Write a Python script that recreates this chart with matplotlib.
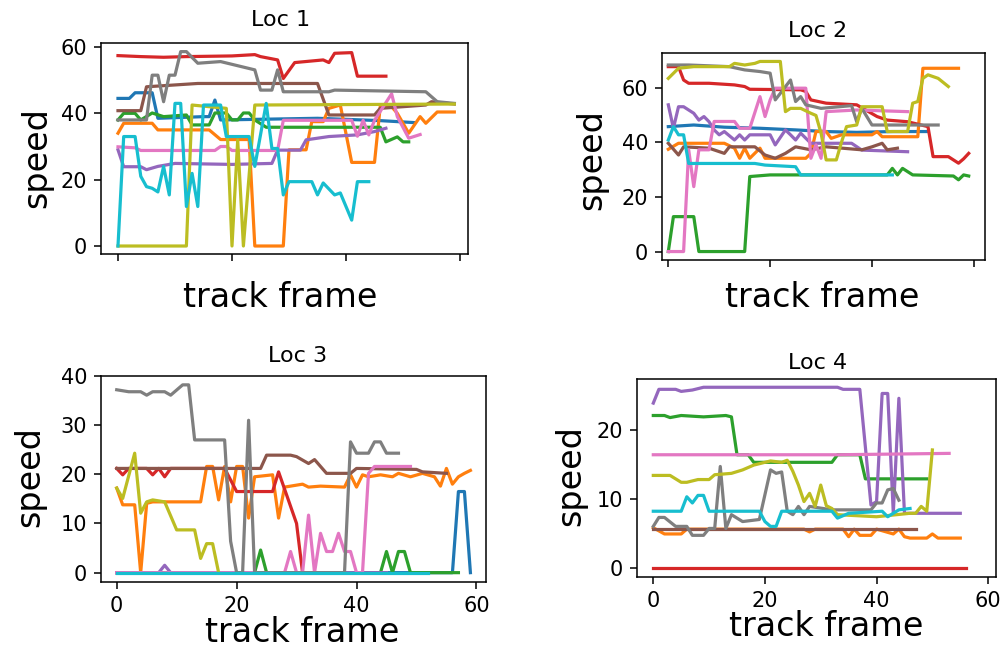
import matplotlib
matplotlib.use("Agg")
import matplotlib.pyplot as plt

W, H = 1001, 651

# ---------------- Loc 1 data (frame, speed) ----------------
l1_blue_f = [0, 2, 3, 6, 7, 15, 16, 17, 18, 35, 46, 52]
l1_blue_v = [44.5, 44.5, 46.2, 46.2, 38.5, 39, 39, 44, 38, 38.5, 37.8, 37.2]
l1_orange_f = [0, 1, 6, 7, 16, 18, 23, 24, 29, 30, 33, 34, 36, 37, 39, 41, 45, 46, 48, 49, 51, 53, 54, 56, 59]
l1_orange_v = [34, 37, 37, 35, 35, 32.1, 32.1, 0, 0, 29, 29, 37.5, 37.5, 41.5, 42.5, 25.2, 25.2, 42, 42, 40, 34, 39, 37, 40.4, 40.4]
l1_green_f = [0, 1, 3, 4, 6, 8, 12, 13, 16, 17, 19, 20, 21, 22, 23, 24, 26, 46, 47, 49, 50, 51]
l1_green_v = [38, 40, 40, 38, 40.1, 39, 39.5, 36.5, 36.5, 40.1, 40.1, 38, 38, 40.1, 40.1, 38, 35.8, 35.8, 31.4, 32.9, 31.4, 31.4]
l1_red_f = [0, 4, 8, 12, 20, 24, 25, 28, 29, 31, 36, 37, 38, 41, 42, 47]
l1_red_v = [57.4, 57.1, 56.9, 57.1, 57.3, 57.7, 57.1, 56.1, 50.5, 55.3, 56.1, 55.3, 58.1, 58.3, 51.2, 51.2]
l1_purple_f = [0, 1, 4, 5, 7, 10, 20, 27, 28, 32, 33, 37, 42, 45, 47]
l1_purple_v = [29, 23.9, 23.9, 23, 24, 24.9, 24.6, 24.9, 28.9, 28.9, 32, 33, 33.5, 34.5, 35.5]
l1_brown_f = [0, 4, 5, 14, 35, 37, 45, 46, 54, 55, 59]
l1_brown_v = [40.8, 40.8, 48, 49, 49, 39.5, 39.5, 41.5, 42.5, 43.5, 42.8]
l1_pink_f = [0, 3, 4, 17, 18, 19, 20, 28, 29, 41, 42, 43, 44, 45, 48, 49, 51, 53]
l1_pink_v = [29.9, 29.6, 28.8, 28.8, 30, 30, 28.8, 28.8, 37.9, 37.9, 33.1, 37.9, 33.5, 37.9, 45.9, 39, 32.5, 33.6]
l1_gray_f = [0, 5, 6, 7, 8, 9, 10, 11, 12, 14, 18, 24, 25, 27, 28, 29, 37, 38, 54, 56, 59]
l1_gray_v = [38, 38, 51.5, 51.5, 43.5, 51.5, 51.5, 58.6, 58.6, 55.1, 55.6, 53.1, 47, 47, 53.1, 46.5, 46.5, 47, 46.5, 43.5, 43]
l1_olive_f = [0, 12, 13, 19, 20, 21, 22, 24, 59]
l1_olive_v = [0, 0, 42.5, 41.5, 0, 32, 0, 42.5, 42.8]
l1_cyan_f = [0, 1, 3, 4, 5, 6, 7, 8, 9, 10, 11, 12, 13, 14, 15, 18, 19, 23, 24, 26, 27, 28, 29, 30, 34, 35, 36, 38, 39, 41, 42, 44]
l1_cyan_v = [0, 33, 33, 21, 17.9, 17.4, 16.3, 24, 15.4, 43, 43, 11.9, 21.9, 11.9, 42.5, 42.5, 33, 33, 24, 43, 29.4, 29.4, 15.4, 19.4, 19.4, 15.4, 19, 15.4, 16, 7.8, 19.4, 19.4]

# ---------------- Loc 2 data ----------------
l2_blue_f = [0, 5, 11, 18, 25, 31, 37, 44, 51]
l2_blue_v = [45.8, 46.4, 45.6, 45.2, 44.6, 44, 43.7, 44, 44]
l2_orange_f = [0, 2, 11, 13, 14, 15, 16, 18, 19, 27, 28, 29, 31, 32, 34, 40, 41, 42, 49, 50, 57]
l2_orange_v = [37.5, 39.7, 39.7, 37.9, 34.2, 37.9, 34.2, 37.9, 34.2, 34.2, 36, 44, 44, 41.5, 42.8, 42.8, 44, 42.1, 42.1, 67.2, 67.2]
l2_green_f = [0, 1, 5, 6, 15, 16, 20, 43, 44, 45, 46, 48, 56, 57, 58, 59]
l2_green_v = [0, 12.8, 12.8, 0, 0, 27.5, 28.1, 28.1, 30.5, 28.1, 30.5, 28.1, 27.7, 26.3, 28.1, 27.7]
l2_red_f = [0, 2, 3, 4, 8, 13, 15, 16, 26, 27, 28, 31, 37, 41, 43, 47, 51, 52, 55, 57, 58, 59]
l2_red_v = [67.8, 67.8, 62.9, 61.7, 61.7, 61.1, 60.5, 59.5, 59.3, 58.7, 55.6, 54.4, 53.8, 49.5, 48.2, 47.6, 45.8, 34.8, 34.8, 32.4, 34, 36]
l2_purple_f = [0, 1, 2, 3, 5, 6, 7, 8, 9, 10, 11, 13, 14, 15, 16, 20, 21, 23, 24, 25, 26, 28, 36, 38, 47]
l2_purple_v = [53.8, 45.2, 53.1, 53.1, 50.7, 48.2, 49.5, 47.6, 44.6, 42.8, 44, 40.9, 42.8, 40.9, 42.8, 42.8, 39.1, 44.6, 42.8, 40.9, 43.4, 39.7, 39.7, 37.2, 36.6]
l2_brown_f = [0, 2, 3, 8, 11, 12, 17, 19, 21, 23, 25, 28, 31, 38, 40, 42, 43, 45]
l2_brown_v = [39.7, 35.4, 38.4, 37.9, 36, 38.4, 38.4, 35.4, 34.2, 36, 38.4, 37.3, 38.4, 37.3, 38.4, 39.7, 37.3, 37.9]
l2_pink_f = [0, 3, 4, 5, 6, 8, 9, 13, 14, 16, 18, 19, 20, 21, 27, 28, 29, 30, 31, 37, 47]
l2_pink_v = [0, 0, 37.3, 23.8, 37.3, 37.3, 47.7, 47.7, 45.2, 45.2, 56.8, 49.5, 55.6, 59.9, 59.9, 34.2, 39.1, 34.2, 51.3, 51.9, 51.3]
l2_gray_f = [0, 4, 12, 15, 18, 20, 21, 22, 24, 25, 26, 27, 30, 36, 37, 38, 40, 53]
l2_gray_v = [68.4, 68.4, 67.8, 66.6, 66, 65.4, 55.6, 58, 62.9, 55, 56.8, 53.8, 52.5, 53.5, 47.6, 52.5, 46.4, 46.4]
l2_olive_f = [0, 2, 5, 12, 13, 15, 17, 18, 22, 23, 24, 26, 28, 29, 30, 31, 33, 34, 35, 37, 38, 42, 43, 47, 48, 49, 50, 51, 53, 55]
l2_olive_v = [63.5, 67.2, 67.8, 67.8, 69, 68.4, 69, 69.7, 69.7, 51.3, 52.5, 52.5, 50.7, 49.9, 43.4, 33.6, 33.6, 40, 45.8, 46.4, 53.1, 53.1, 44, 44, 54.4, 55, 63.5, 64.8, 63.5, 60.5]
l2_cyan_f = [0, 1, 2, 3, 4, 17, 19, 25, 26, 44]
l2_cyan_v = [40.9, 45.8, 42.8, 42.8, 32.3, 32.3, 31.7, 31.1, 28.1, 28.1]

# ---------------- Loc 3 data ----------------
l3_blue_f = [0, 56, 57, 58, 59]
l3_blue_v = [0, 0, 16.5, 16.5, 0]
l3_orange_f = [0, 1, 3, 4, 5, 6, 14, 15, 16, 17, 18, 19, 20, 21, 22, 23, 26, 27, 28, 31, 32, 34, 38, 39, 40, 41, 42, 44, 46, 47, 49, 51, 53, 54, 55, 56, 57, 58, 59]
l3_orange_v = [17.2, 13.8, 13.8, 0, 14.1, 14.4, 14.4, 21.6, 21.6, 14.8, 21.6, 14.4, 21.6, 21.6, 11.1, 19.5, 19.9, 11.1, 17.4, 18, 17.4, 17.6, 17.4, 19.9, 17.4, 19.9, 19.5, 19.9, 19.5, 20.2, 19.5, 20.2, 19.5, 17.6, 21.2, 18, 19.5, 20.2, 20.8]
l3_green_f = [0, 23, 24, 25, 44, 45, 46, 47, 48, 49, 57]
l3_green_v = [0, 0, 4.6, 0, 0, 4.3, 0, 4.3, 4.3, 0, 0]
l3_red_f = [0, 1, 2, 5, 6, 7, 8, 9, 18, 20, 26, 27, 30, 31]
l3_red_v = [21.2, 19.9, 21.2, 21.2, 19.9, 21.2, 19.5, 21.2, 21.2, 16.5, 16.5, 20.5, 10, 0]
l3_purple_f = [0, 7, 8, 9, 45]
l3_purple_v = [0, 0, 1.5, 0, 0]
l3_brown_f = [0, 24, 25, 29, 30, 32, 33, 34, 35, 39, 40, 50, 51, 55]
l3_brown_v = [21.2, 21.2, 23.9, 23.9, 23.6, 22.2, 23, 21.6, 20.2, 20.2, 21.2, 21, 20.5, 20.2]
l3_pink_f = [0, 28, 29, 30, 31, 32, 33, 34, 35, 36, 37, 38, 39, 40, 41, 42, 43, 49]
l3_pink_v = [0, 0, 4.3, 0, 0, 11.7, 0, 8, 4.3, 4.3, 8, 4.3, 4.3, 0, 0, 20.2, 21.6, 21.6]
l3_gray_f = [0, 2, 4, 5, 6, 8, 9, 11, 12, 13, 18, 19, 20, 21, 22, 23, 38, 39, 40, 42, 43, 44, 45, 47]
l3_gray_v = [37.2, 36.8, 36.8, 36.1, 36.8, 36.8, 36.1, 38.2, 38.2, 27, 27, 6.4, 0, 0, 31, 0, 0, 26.6, 24.3, 24.3, 26.6, 26.6, 24.3, 24.3]
l3_olive_f = [0, 1, 3, 4, 5, 6, 8, 10, 13, 14, 15, 16, 17]
l3_olive_v = [17.2, 15.1, 24.3, 12.1, 14.4, 14.8, 14.4, 8.7, 8.7, 2.9, 5.9, 5.9, 0]
l3_cyan_f = [0, 52]
l3_cyan_v = [0, 0]

# ---------------- Loc 4 data ----------------
l4_blue_f = []
l4_blue_v = []
l4_orange_f = [0, 2, 5, 6, 27, 28, 29, 34, 35, 36, 37, 39, 40, 43, 44, 45, 46, 49, 50, 51, 55]
l4_orange_v = [5.8, 4.9, 4.9, 5.6, 5.6, 5.2, 5.6, 5.6, 4.5, 5.6, 4.7, 4.7, 5.6, 4.9, 5.6, 4.5, 4.3, 4.3, 4.9, 4.3, 4.3]
l4_green_f = [0, 2, 3, 5, 9, 13, 14, 15, 17, 18, 32, 33, 37, 38, 49]
l4_green_v = [22.1, 22.1, 21.8, 22.1, 21.9, 22.1, 21.9, 16.4, 16.4, 15.3, 15.3, 16.4, 16.4, 12.9, 12.9]
l4_red_f = [0, 56]
l4_red_v = [0, 0]
l4_purple_f = [0, 1, 4, 5, 7, 9, 33, 34, 37, 39, 40, 41, 42, 43, 44, 45, 55]
l4_purple_v = [23.9, 25.9, 25.9, 25.6, 25.8, 26.2, 26.2, 25.9, 25.9, 9.1, 9.6, 25.3, 25.3, 7.9, 24.6, 7.9, 7.9]
l4_brown_f = [0, 47]
l4_brown_v = [5.6, 5.6]
l4_pink_f = [0, 33, 53]
l4_pink_v = [16.4, 16.4, 16.6]
l4_gray_f = [0, 1, 2, 4, 6, 7, 9, 10, 11, 12, 13, 14, 15, 16, 19, 21, 22, 23, 24, 25, 26, 27, 28, 32, 39, 40, 41, 42, 43, 44]
l4_gray_v = [6.0, 7.3, 7.3, 6.0, 6.0, 4.7, 4.7, 5.7, 5.7, 14.7, 5.7, 7.7, 7.2, 6.7, 7.0, 14.2, 13.7, 13.9, 8.2, 7.7, 8.9, 7.7, 8.9, 8.4, 8.4, 9.4, 9.4, 11.3, 11.5, 9.8]
l4_olive_f = [0, 3, 5, 6, 8, 10, 11, 14, 16, 18, 20, 21, 23, 24, 25, 26, 27, 28, 29, 30, 31, 32, 33, 40, 46, 47, 48, 49, 50]
l4_olive_v = [13.4, 13.4, 12.4, 12.4, 12.8, 12.8, 13.5, 13.7, 14.2, 14.9, 15.3, 15.5, 15.3, 15.6, 14, 12, 9.6, 10.8, 8.9, 12, 9, 8.6, 7.7, 7.4, 7.9, 7.9, 8.9, 8.2, 17.1]
l4_cyan_f = [0, 5, 6, 7, 8, 9, 10, 19, 20, 21, 22, 23, 32, 33, 35, 41, 42, 44, 46]
l4_cyan_v = [8.2, 8.2, 10.3, 9.4, 10.5, 10.5, 8.2, 8.2, 6.7, 6.0, 6.0, 8.2, 8.2, 7.2, 7.9, 8.2, 7.4, 8.4, 8.6]

titles = ["Loc 1", "Loc 2", "Loc 3", "Loc 4"]
xticks = [0, 20, 40, 60]
yticks = [[0, 20, 40, 60], [0, 20, 40, 60], [0, 10, 20, 30, 40], [0, 10, 20]]
show_xticklabels = [False, False, True, True]

color_names = ["blue", "orange", "green", "red", "purple", "brown", "pink", "gray", "olive", "cyan"]
tab = ["tab:" + c for c in color_names]

g = globals()
series = []
for loc in range(1, 5):
    s = []
    for c in color_names:
        s.append((g[f"l{loc}_{c}_f"], g[f"l{loc}_{c}_v"]))
    series.append(s)

# layout (pixel boxes: left, top, right, bottom) and limits
boxes = [(101, 43, 468, 254), (662, 53, 985, 260), (101, 376, 486, 582), (637, 379, 996, 577)]
xlims = [(-2.98, 61.4), (-1.24, 62.2), (-2.62, 61.6), (-2.92, 61.4)]
ylims = [(-2.41, 61.2), (-3.1, 72.8), (-1.9, 40.0), (-1.35, 27.4)]
title_pos = [(281, 20), (818, 31), (298, 356), (818, 363)]
xlabel_pos = [(280, 298), (822, 298), (302, 633), (826, 627)]
ylabel_pos = [(37, 158), (592, 160), (30, 477), (571, 476)]

fig = plt.figure(figsize=(W / 100, H / 100), dpi=100)
for i in range(4):
    l, t, r, b = boxes[i]
    ax = fig.add_axes([l / W, 1 - b / H, (r - l) / W, (b - t) / H])
    for (fr, sp), col in zip(series[i], tab):
        if len(fr):
            ax.plot(fr, sp, color=col, lw=2.3)
    ax.set_xlim(*xlims[i])
    ax.set_ylim(*ylims[i])
    ax.set_xticks(xticks)
    ax.set_yticks(yticks[i])
    if not show_xticklabels[i]:
        ax.set_xticklabels([])
    ax.tick_params(labelsize=15, length=5, width=1.1, pad=5)
    for sp_ in ax.spines.values():
        sp_.set_linewidth(1.1)
    fig.text(title_pos[i][0] / W, 1 - title_pos[i][1] / H, titles[i], ha="center", va="center", fontsize=16)
    fig.text(xlabel_pos[i][0] / W, 1 - xlabel_pos[i][1] / H, "track frame", ha="center", va="center", fontsize=24)
    fig.text(ylabel_pos[i][0] / W, 1 - ylabel_pos[i][1] / H, "speed", ha="center", va="center", fontsize=24, rotation=90)

fig.savefig("out.png", dpi=100)
